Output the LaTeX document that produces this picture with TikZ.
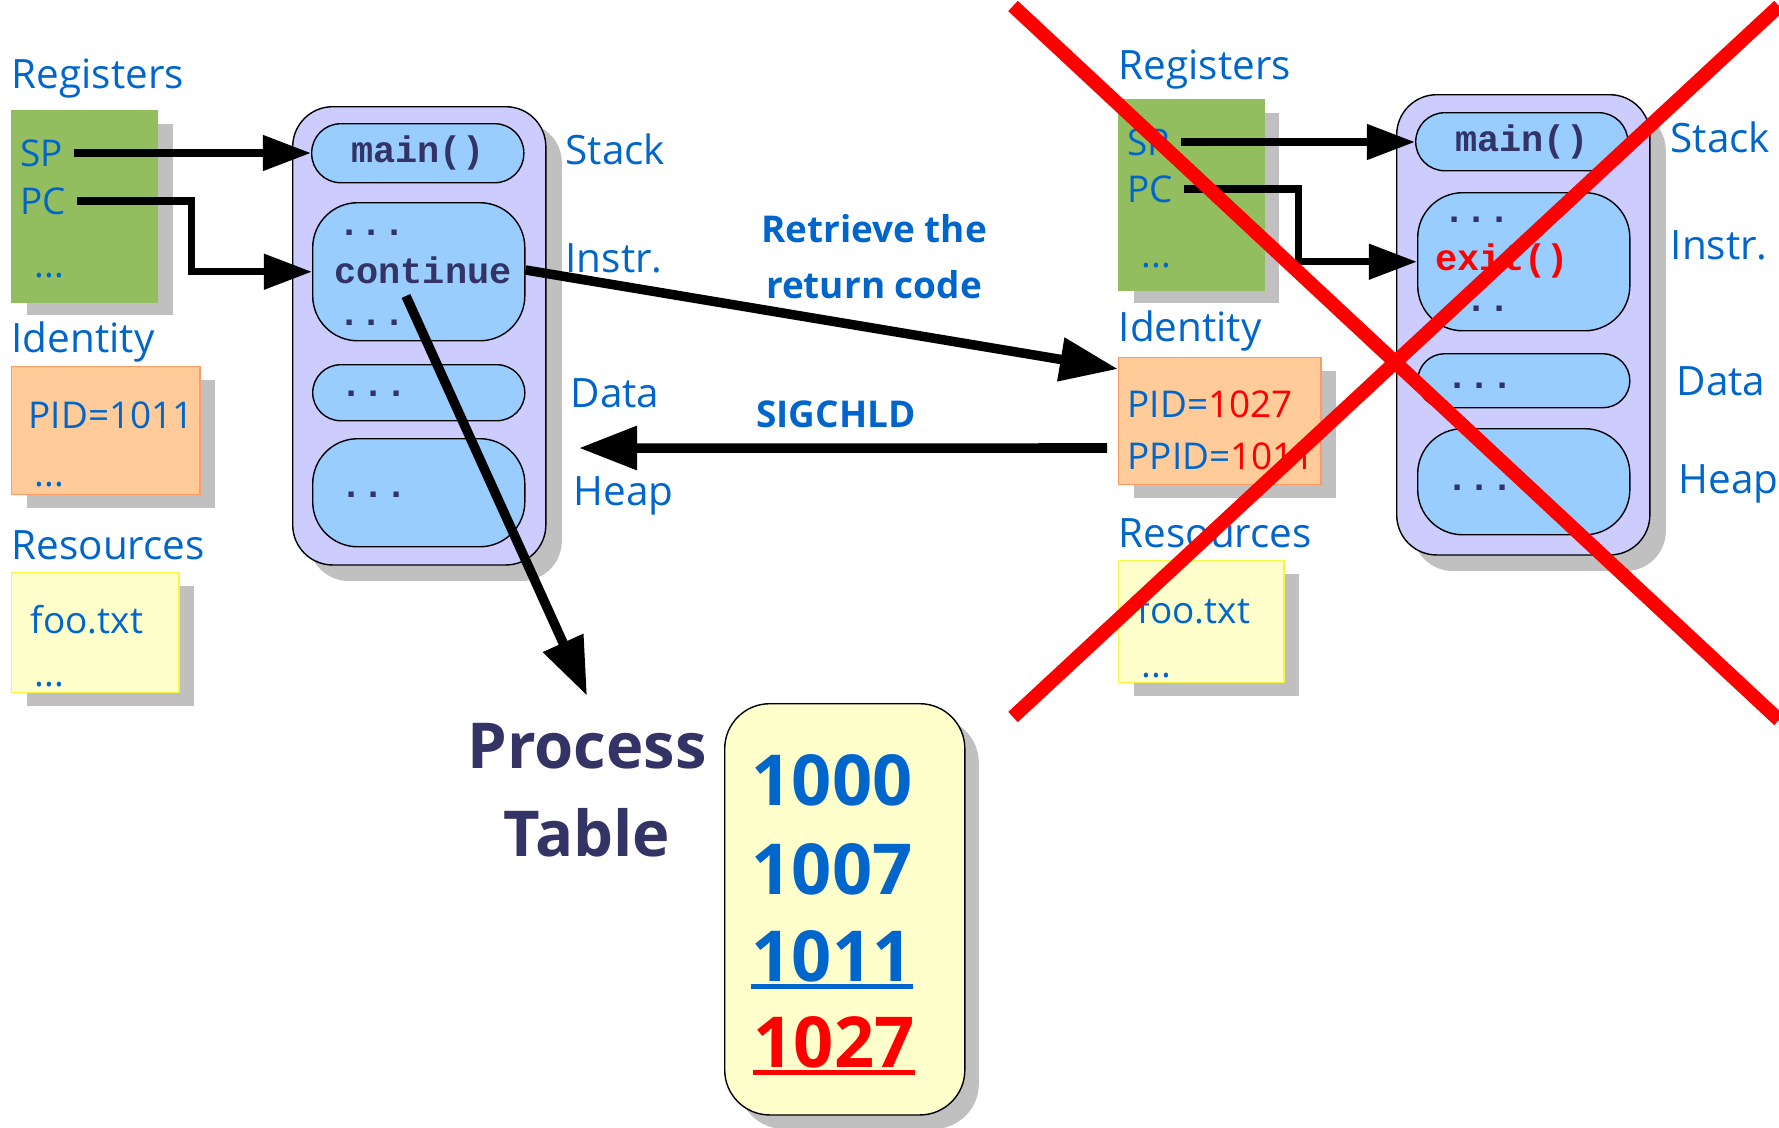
\documentclass[tikz,border=0pt]{standalone}
\usepackage{fontspec}
\setmainfont{Open Sans}
\setmonofont{Liberation Mono}
\usepackage{xcolor}
\usetikzlibrary{arrows.meta, positioning, calc, shadows}
\definecolor{labelblue}{RGB}{0, 102, 204}
\definecolor{tablenavy}{RGB}{51, 51, 102}
\definecolor{regfill}{RGB}{147, 190, 96}
\definecolor{idfill}{RGB}{255, 204, 153}
\definecolor{iddraw}{RGB}{255, 153, 102}
\definecolor{resfill}{RGB}{255, 255, 204}
\definecolor{resdraw}{RGB}{245, 245, 70}
\definecolor{procfill}{RGB}{204, 204, 255}
\definecolor{segfill}{RGB}{153, 204, 255}
\definecolor{shadowgray}{RGB}{192, 192, 192}

\begin{document}
\begin{tikzpicture}[
  x=0.01cm, y=-0.01cm,
  every node/.style={font=\fontsize{10.5}{13}\selectfont, text=labelblue},
  lbl/.style={anchor=west, inner sep=0pt},
  head/.style={anchor=west, inner sep=0pt, font=\fontsize{11.5}{14}\selectfont},
  boxshadow/.style={drop shadow={shadow xshift=0.15cm, shadow yshift=-0.13cm, fill=shadowgray, opacity=1}},
  regbox/.style={fill=regfill, draw=regfill, boxshadow, anchor=north west, inner sep=0pt},
  idbox/.style={fill=idfill, draw=iddraw, boxshadow, anchor=north west, inner sep=0pt},
  resbox/.style={fill=resfill, draw=resdraw, boxshadow, anchor=north west, inner sep=0pt},
  proc/.style={draw=black, fill=procfill, rounded corners=0.4cm, anchor=north west, inner sep=0pt, minimum width=2.53cm, minimum height=4.58cm, drop shadow={shadow xshift=0.16cm, shadow yshift=-0.16cm, fill=shadowgray, opacity=1}},
  seg/.style={draw=black, fill=segfill, anchor=north west, inner sep=0pt, minimum width=2.12cm},
  code/.style={font=\ttfamily\bfseries\fontsize{10.5}{13}\selectfont, text=tablenavy},
  note/.style={font=\bfseries\fontsize{10.5}{16}\selectfont, align=center},
  ptr/.style={-{Triangle[length=0.48cm, width=0.34cm]}, line width=0.075cm},
  bigptr/.style={-{Triangle[length=0.58cm, width=0.42cm]}, line width=0.095cm},
  cross/.style={draw=red, line width=0.14cm},
  pnum/.style={font=\bfseries\fontsize{20}{24}\selectfont, inner sep=0pt}
]
  \useasboundingbox (0,0) rectangle (1779,1127);

  % Parent process (left)
  \node[head] (regP) at (11,79) {Registers};
  \node[regbox, minimum width=1.46cm, minimum height=1.91cm] (regboxP) at (11,110) {};
  \node[lbl] (spP) at (20,153) {SP};
  \node[lbl] (pcP) at (20,201) {PC};
  \node[lbl] (regdotsP) at (34,276) {...};
  \node[head] (idP) at (11,342) {Identity};
  \node[idbox, minimum width=1.88cm, minimum height=1.28cm] (idboxP) at (11,366) {};
  \node[lbl] (pidP) at (28,415) {PID=1011};
  \node[lbl] (iddotsP) at (34,485) {...};
  \node[head] (resP) at (11,545) {Resources};
  \node[resbox, minimum width=1.67cm, minimum height=1.20cm] (resboxP) at (11,572) {};
  \node[lbl] (fooP) at (30,620) {foo.txt};
  \node[lbl] (resdotsP) at (34,685) {...};

  \node[proc] (procP) at (292,106) {};
  \node[seg, code, minimum height=0.59cm, rounded corners=0.29cm] (stackP) at (311,123) {main()};
  \node[seg, minimum height=1.38cm, rounded corners=0.45cm] (instrP) at (312,202) {};
  \node[code, lbl] (idots1P) at (338,233) {...};
  \node[code] (contP) at (423,270) {continue};
  \node[code, lbl] (idots2P) at (338,323) {...};
  \node[seg, minimum height=0.56cm, rounded corners=0.28cm] (dataP) at (312,364) {};
  \node[code] (ddotsP) at (374,394) {...};
  \node[seg, minimum height=1.08cm, rounded corners=0.45cm] (heapP) at (312,438) {};
  \node[code] (hdotsP) at (374,495) {...};

  \node[head] (stackLP) at (565,149) {Stack};
  \node[head] (instrLP) at (565,258) {Instr.};
  \node[head] (dataLP) at (570,393) {Data};
  \node[head] (heapLP) at (573,496) {Heap};

  % Child process (right)
  \node[head] (regC) at (1118,70) {Registers};
  \node[regbox, minimum width=1.45cm, minimum height=1.90cm] (regboxC) at (1118,99) {};
  \node[lbl] (spC) at (1127,142) {SP};
  \node[lbl] (pcC) at (1127,189) {PC};
  \node[lbl] (regdotsC) at (1141,266) {...};
  \node[head] (idC) at (1118,331) {Identity};
  \node[idbox, minimum width=2.02cm, minimum height=1.27cm] (idboxC) at (1118,357) {};
  \node[lbl] (pidC) at (1127,404) {PID=\textcolor{red}{1027}};
  \node[lbl] (ppidC) at (1127,456) {PPID=\textcolor{red}{1011}};
  \node[head] (resC) at (1118,533) {Resources};
  \node[resbox, minimum width=1.65cm, minimum height=1.22cm] (resboxC) at (1118,560) {};
  \node[lbl] (fooC) at (1137,610) {foo.txt};
  \node[lbl] (resdotsC) at (1141,676) {...};

  \node[proc, minimum height=4.60cm] (procC) at (1396,94) {};
  \node[seg, code, minimum height=0.58cm, rounded corners=0.29cm] (stackC) at (1415,112) {main()};
  \node[seg, minimum height=1.38cm, rounded corners=0.45cm] (instrC) at (1417,192) {};
  \node[code, lbl] (idots1C) at (1443,220) {...};
  \node[code, text=red] (exitC) at (1502,261) {exit()};
  \node[code, lbl] (idots2C) at (1443,309) {...};
  \node[seg, minimum height=0.54cm, rounded corners=0.27cm] (dataC) at (1417,353) {};
  \node[code] (ddotsC) at (1480,386) {...};
  \node[seg, minimum height=1.06cm, rounded corners=0.45cm] (heapC) at (1417,428) {};
  \node[code] (hdotsC) at (1480,488) {...};

  \node[head] (stackLC) at (1670,137) {Stack};
  \node[head] (instrLC) at (1670,245) {Instr.};
  \node[head] (dataLC) at (1676,381) {Data};
  \node[head] (heapLC) at (1678,484) {Heap};

  % Messages
  \node[note] (retrieve) at (874,257) {Retrieve the\\return code};
  \node[note] (sigchld) at (836,414) {SIGCHLD};

  % Process table
  \node[font=\bfseries\fontsize{18}{25}\selectfont, text=tablenavy, align=center] (ptitle) at (587,790) {Process\\Table};
  \node[draw=black, fill=resfill, rounded corners=0.45cm, anchor=north west, minimum width=2.40cm, minimum height=4.11cm, drop shadow={shadow xshift=0.14cm, shadow yshift=-0.14cm, fill=shadowgray, opacity=1}] (ptable) at (724,703) {};
  \node[pnum] (n1000) at (832,780) {1000};
  \node[pnum] (n1007) at (832,869) {1007};
  \node[pnum] (n1011) at (832,956) {1011};
  \node[pnum, text=red] (n1027) at (834,1042) {1027};
  \draw[labelblue, line width=0.05cm] ([yshift=-0.05cm]n1011.base west) -- ([yshift=-0.05cm]n1011.base east);
  \draw[red, line width=0.05cm] ([yshift=-0.05cm]n1027.base west) -- ([yshift=-0.05cm]n1027.base east);

  % Arrows
  \draw[ptr] ([xshift=3pt]spP.east) -- (spP.east -| stackP.west);
  \draw[ptr] ([xshift=3pt]pcP.east) -- ++(114,0) |- (instrP.west);
  \draw[ptr] ([xshift=3pt]spC.east) -- (spC.east -| stackC.west);
  \draw[ptr] ([xshift=3pt]pcC.east) -- ++(114,0) |- (instrC.west);
  \draw[bigptr] (contP.east -| instrP.east) -- ($(idboxC.north west)+(0,12)$);
  \draw[bigptr] ([xshift=-0.2cm, yshift=0.08cm]ppidC.west) -- ($(ppidC.west -| heapLP.west)+(6,-8)$);
  \draw[bigptr] ([xshift=-0.17cm]contP.south) -- ([yshift=0.15cm]ptitle.north);

  % Terminated child
  \draw[cross] (1013,6) -- (1779,720);
  \draw[cross] (1779,6) -- (1013,717);

\end{tikzpicture}
\end{document}
